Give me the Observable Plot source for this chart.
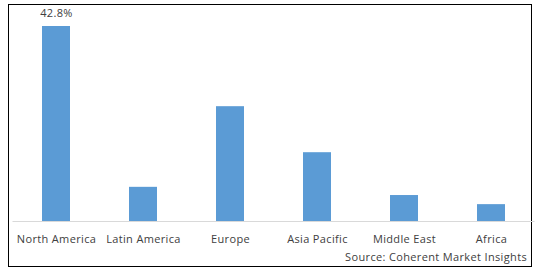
<!DOCTYPE html>
<html><head><meta charset="utf-8">
<script src="https://cdn.jsdelivr.net/npm/d3@7"></script>
<script src="https://cdn.jsdelivr.net/npm/@observablehq/plot@0.6"></script>
<style>
body{margin:0;background:#fff;font-family:"Open Sans",sans-serif;}
#wrap{position:relative;width:538px;height:272px;}
#border{position:absolute;left:8px;top:4px;width:522px;height:261px;border:1px solid #000;}
#chart{position:absolute;left:0;top:0;}
#chart svg text{letter-spacing:0.35px;}
#src{position:absolute;right:11px;top:249px;font-size:11px;letter-spacing:0.35px;color:#404040;font-family:"Open Sans",sans-serif;}
</style></head>
<body><div id="wrap"><div id="border"></div><div id="chart"></div><div id="src">Source: Coherent Market Insights</div></div>
<script>
const regions = ["North America","Latin America","Europe","Asia Pacific","Middle East","Africa"];
const shares = [42.8, 7.5, 25.2, 15.1, 5.7, 3.7];
const labels = ["42.8%", "", "", "", "", ""];
const data = regions.map((r,i)=>({region:r, value:shares[i], label:labels[i]}));
const chart = Plot.plot({
  width:538, height:272,
  marginLeft:12.5, marginRight:3.5, marginTop:26, marginBottom:51,
  style:{fontFamily:"Open Sans", fontSize:"11px", color:"#404040", background:"transparent"},
  x:{domain:regions, paddingInner:0.678, paddingOuter:0.339, label:null, tickSize:0, tickPadding:14},
  y:{domain:[0,42.8], axis:null},
  marks:[
    Plot.barY(data,{x:"region", y:"value", fill:"#5B9BD5"}),
    Plot.ruleY([0],{stroke:"#d9d9d9"}),
    Plot.text(data.filter(d=>d.label),{x:"region", y:"value", text:"label", dy:-13, fill:"#404040", fontSize:11})
  ]
});
document.getElementById("chart").appendChild(chart);
</script></body></html>
